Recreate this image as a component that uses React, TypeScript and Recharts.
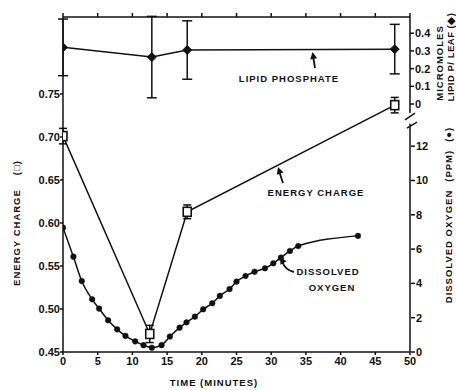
import React from "react";
import {
  LineChart,
  Line,
  XAxis,
  YAxis,
  ErrorBar,
  ReferenceLine,
} from "recharts";

// energy charge (open squares)
const ecTime = [0, 12.5, 17.9, 47.8];
const ecValue = [0.701, 0.471, 0.613, 0.737];
const ecErr = [0.009, 0.01, 0.008, 0.009];

// lipid phosphate, micromoles / leaf (diamonds)
const lipTime = [0, 12.8, 17.9, 47.8];
const lipValue = [0.32, 0.265, 0.305, 0.31];
const lipErr = [0.16, 0.23, 0.165, 0.14];

// dissolved oxygen, ppm (dots)
const o2Time = [
  0, 1.5, 2.7, 4.2, 5.2, 6.5, 7.8, 9.0, 10.4, 11.6, 12.8, 14.2, 15.4, 16.8,
  17.8, 19.0, 20.2, 21.5, 22.6, 24.0, 25.0, 26.3, 27.6, 29.1, 30.3, 31.4,
  32.7, 33.9, 42.5,
];
const o2Value = [
  7.25, 5.56, 4.14, 3.07, 2.53, 1.85, 1.32, 0.94, 0.62, 0.4, 0.25, 0.4, 0.9,
  1.42, 1.73, 2.06, 2.49, 2.84, 3.27, 3.67, 4.1, 4.43, 4.68, 4.88, 5.17, 5.5,
  5.89, 6.18, 6.77,
];

const timeTicks = [0, 5, 10, 15, 20, 25, 30, 35, 40, 45, 50];
const ecTicks = [0.45, 0.5, 0.55, 0.6, 0.65, 0.7, 0.75];
const o2Ticks = [0, 2, 4, 6, 8, 10, 12];
const lipTicks = [0, 0.1, 0.2, 0.3, 0.4];

const ecData = ecTime.map((t, i) => ({ t, v: ecValue[i], err: ecErr[i] }));
const lipData = lipTime.map((t, i) => ({ t, v: lipValue[i], err: lipErr[i] }));
const o2Data = o2Time.map((t, i) => ({ t, v: o2Value[i] }));

const INK = "#111";
const FONT = "'Liberation Sans', Arial, sans-serif";
const tickStyle = { fontSize: 11, fontWeight: 700, fill: INK, fontFamily: FONT };

function Square(p: any) {
  return (
    <rect
      key={`sq-${p.index}`}
      x={p.cx - 4}
      y={p.cy - 4.5}
      width={8}
      height={9}
      fill="#fff"
      stroke={INK}
      strokeWidth={1.6}
    />
  );
}

function Diamond(p: any) {
  const { cx, cy } = p;
  return (
    <polygon
      key={`dm-${p.index}`}
      points={`${cx},${cy - 4.5} ${cx + 4.5},${cy} ${cx},${cy + 4.5} ${cx - 4.5},${cy}`}
      fill={INK}
      stroke={INK}
    />
  );
}

function Arrow({ d, tip, angle }: { d: string; tip: [number, number]; angle: number }) {
  const [x, y] = tip;
  return (
    <g>
      <path d={d} fill="none" stroke={INK} strokeWidth={1.8} />
      <polygon
        points={`${x},${y} ${x - 3.5},${y + 7} ${x + 3.5},${y + 7}`}
        fill={INK}
        transform={`rotate(${angle} ${x} ${y})`}
      />
    </g>
  );
}

export default function App() {
  const label = {
    fontFamily: FONT,
    fontWeight: 700,
    fontSize: 9.5,
    fill: INK,
    letterSpacing: 1,
  } as const;
  return (
    <div style={{ position: "absolute", left: 0, top: 0, width: 456, height: 390 }}>
      <LineChart
        width={456}
        height={390}
        margin={{ top: 13, right: 0, bottom: 18, left: 23 }}
      >
        <XAxis
          xAxisId="b"
          dataKey="t"
          type="number"
          domain={[0, 50]}
          ticks={timeTicks}
          allowDataOverflow
          height={20}
          tickSize={3}
          tick={tickStyle}
          stroke={INK}
          strokeWidth={1.5}
        />
        <XAxis
          xAxisId="top"
          orientation="top"
          dataKey="t"
          type="number"
          domain={[0, 50]}
          ticks={timeTicks}
          allowDataOverflow
          height={4}
          tickSize={4}
          tickFormatter={() => ""}
          stroke={INK}
          strokeWidth={1.5}
        />
        <YAxis
          yAxisId="ec"
          type="number"
          domain={[0.45, 0.8395]}
          ticks={ecTicks}
          allowDataOverflow
          width={40}
          tickSize={3}
          tickMargin={0}
          tickFormatter={(v: number) => v.toFixed(2)}
          tick={tickStyle}
          stroke={INK}
          strokeWidth={1.5}
        />
        <YAxis
          yAxisId="lip"
          orientation="right"
          type="number"
          domain={[-1.401, 0.4915]}
          ticks={lipTicks}
          allowDataOverflow
          width={1}
          axisLine={false}
          tickSize={4}
          tickMargin={1}
          tickFormatter={(v: number) => (v === 0 ? "0" : v.toFixed(1))}
          tick={tickStyle}
          stroke={INK}
          strokeWidth={1.5}
        />
        <YAxis
          yAxisId="o2"
          orientation="right"
          type="number"
          domain={[0, 19.53]}
          ticks={o2Ticks}
          allowDataOverflow
          width={45}
          axisLine={false}
          tickSize={4}
          tickMargin={1}
          tick={tickStyle}
          stroke={INK}
          strokeWidth={1.5}
        />

        {/* right axis, broken between the lipid and oxygen scales */}
        <ReferenceLine
          xAxisId="b"
          yAxisId="lip"
          segment={[{ x: 50, y: 0.4915 }, { x: 50, y: -0.051 }]}
          stroke={INK}
          strokeWidth={1.5}
          ifOverflow="visible"
        />
        <ReferenceLine
          xAxisId="b"
          yAxisId="o2"
          segment={[{ x: 50, y: 13.3 }, { x: 50, y: 0 }]}
          stroke={INK}
          strokeWidth={1.5}
          ifOverflow="visible"
        />
        <ReferenceLine
          xAxisId="b"
          yAxisId="lip"
          segment={[{ x: 49.28, y: -0.09 }, { x: 50.72, y: -0.051 }]}
          stroke={INK}
          strokeWidth={1.5}
          ifOverflow="visible"
        />
        <ReferenceLine
          xAxisId="b"
          yAxisId="lip"
          segment={[{ x: 49.57, y: -0.136 }, { x: 51.0, y: -0.102 }]}
          stroke={INK}
          strokeWidth={1.5}
          ifOverflow="visible"
        />

        <Line
          xAxisId="b"
          yAxisId="lip"
          data={lipData}
          dataKey="v"
          type="linear"
          stroke={INK}
          strokeWidth={1.5}
          dot={Diamond}
          isAnimationActive={false}
        >
          <ErrorBar dataKey="err" direction="y" width={5} stroke={INK} strokeWidth={1.5} />
        </Line>
        <Line
          xAxisId="b"
          yAxisId="o2"
          data={o2Data}
          dataKey="v"
          type="monotone"
          stroke={INK}
          strokeWidth={1.5}
          dot={{ r: 2.8, fill: INK, stroke: INK, strokeWidth: 0.5 }}
          isAnimationActive={false}
        />
        <Line
          xAxisId="b"
          yAxisId="ec"
          data={ecData}
          dataKey="v"
          type="linear"
          stroke={INK}
          strokeWidth={1.5}
          dot={Square}
          isAnimationActive={false}
        >
          <ErrorBar dataKey="err" direction="y" width={4} stroke={INK} strokeWidth={1.5} />
        </Line>
      </LineChart>

      <svg
        width={456}
        height={390}
        style={{ position: "absolute", left: 0, top: 0, pointerEvents: "none" }}
      >
        <text
          {...label}
          textAnchor="middle"
          dominantBaseline="central"
          transform="translate(16 223) rotate(-90)"
        >
          ENERGY CHARGE
          <tspan dx={14}>(□)</tspan>
        </text>
        <text
          {...label}
          textAnchor="middle"
          dominantBaseline="central"
          transform="translate(448 215) rotate(-90)"
        >
          DISSOLVED OXYGEN
          <tspan dx={8}>(PPM)</tspan>
          <tspan dx={8}>(●)</tspan>
        </text>
        <text
          {...label}
          textAnchor="middle"
          dominantBaseline="central"
          transform="translate(439 63) rotate(-90)"
        >
          MICROMOLES
        </text>
        <text
          {...label}
          letterSpacing={0.5}
          textAnchor="middle"
          dominantBaseline="central"
          transform="translate(450 57) rotate(-90)"
        >
          LIPID P/ LEAF (◆)
        </text>
        <text {...label} x={214} y={382} textAnchor="middle" dominantBaseline="central">
          TIME (MINUTES)
        </text>

        <text {...label} x={289} y={78} textAnchor="middle" dominantBaseline="central">
          LIPID PHOSPHATE
        </text>
        <Arrow d="M315 68 L313 56" tip={[312.5, 52]} angle={-10} />

        <text {...label} x={316} y={192} textAnchor="middle" dominantBaseline="central">
          ENERGY CHARGE
        </text>
        <Arrow d="M283 183 L279 171" tip={[278, 167]} angle={-18} />

        <text {...label} x={328} y={271} textAnchor="middle" dominantBaseline="central">
          DISSOLVED
        </text>
        <text {...label} x={332} y={287} textAnchor="middle" dominantBaseline="central">
          OXYGEN
        </text>
        <Arrow d="M294 272 Q285 270 282 261" tip={[280, 257]} angle={-30} />
      </svg>
    </div>
  );
}
